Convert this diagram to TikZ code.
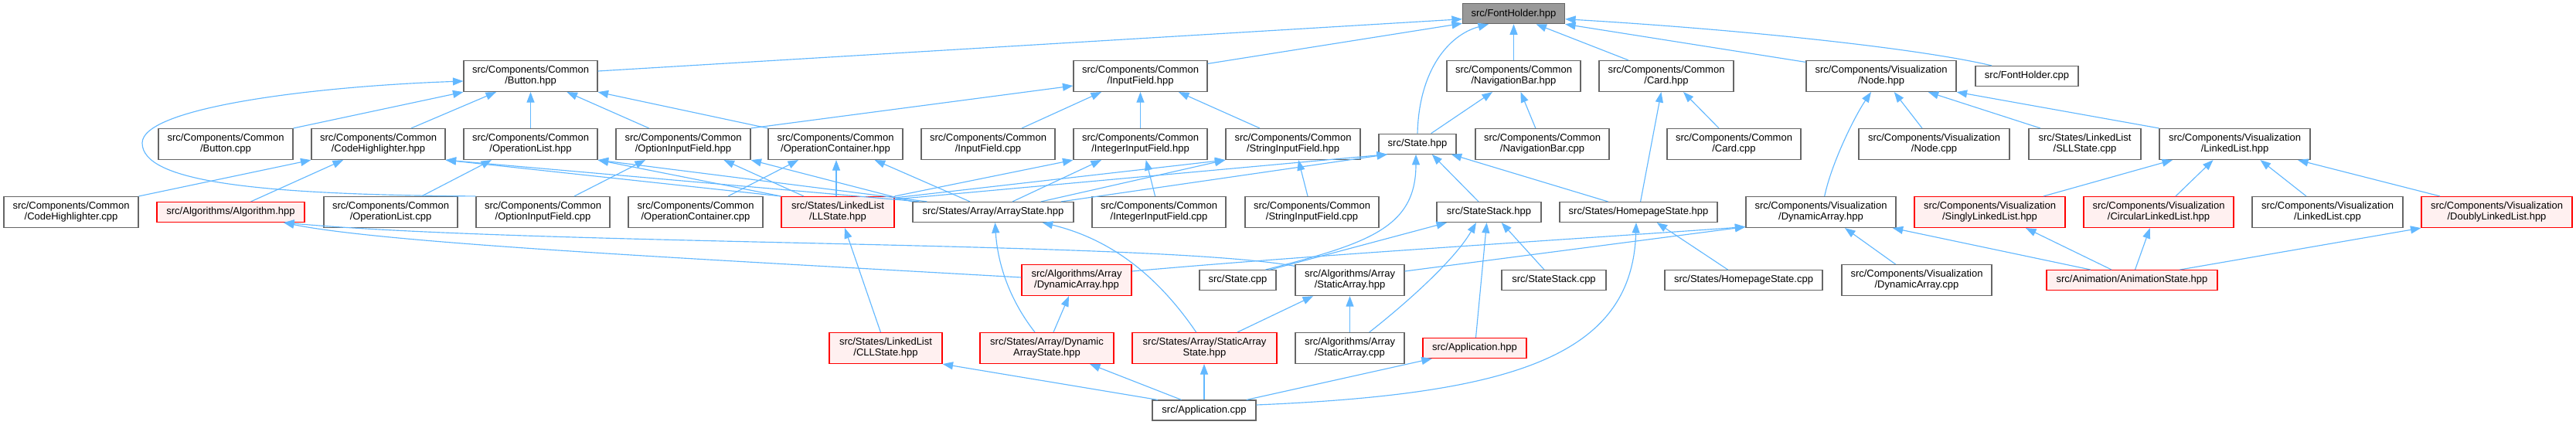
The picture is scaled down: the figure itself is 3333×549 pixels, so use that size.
\documentclass[tikz,border=0pt]{standalone}
\usepackage{fontspec}
\newfontfamily\nf{Liberation Sans}
\usetikzlibrary{arrows.meta}
\definecolor{eblue}{HTML}{63B8FF}
\definecolor{nborder}{HTML}{666666}
\definecolor{rootfill}{HTML}{999999}
\definecolor{rootborder}{HTML}{666666}
\definecolor{redfill}{HTML}{FFF0F0}
\tikzset{
  nb/.style={draw=nborder, fill=white, line width=1.15pt, inner sep=0pt, align=center,
    font=\nf\fontsize{13}{14}\selectfont, minimum height=40pt},
  oneline/.style={minimum height=26pt},
  rednode/.style={draw=red, fill=redfill},
  rootnode/.style={draw=rootborder, fill=rootfill},
  conn/.style={draw=eblue, line width=1.15pt, -{Triangle[length=13.5pt,width=10pt]}}
}
\begin{document}
\begin{tikzpicture}[x=1pt,y=-1pt]
\useasboundingbox (0,0) rectangle (3333,549);
% row 0
\node[nb, oneline, rootnode, minimum width=132pt] (fh) at (1958.5,17.7) {src/FontHolder.hpp};
% row 1
\node[nb, minimum width=173pt] (btnh) at (686.5,98.5) {src/Components/Common\\/Button.hpp};
\node[nb, minimum width=173pt] (ifh) at (1475.5,98.5) {src/Components/Common\\/InputField.hpp};
\node[nb, minimum width=173pt] (navh) at (1958.5,98.5) {src/Components/Common\\/NavigationBar.hpp};
\node[nb, minimum width=174pt] (cardh) at (2156,98.5) {src/Components/Common\\/Card.hpp};
\node[nb, minimum width=194pt] (nodeh) at (2434,98.5) {src/Components/Visualization\\/Node.hpp};
\node[nb, oneline, minimum width=133pt] (fhc) at (2622.5,98.5) {src/FontHolder.cpp};
% row 2
\node[nb, minimum width=174pt] (btnc) at (292,186.5) {src/Components/Common\\/Button.cpp};
\node[nb, minimum width=173pt] (chh) at (489.5,186.5) {src/Components/Common\\/CodeHighlighter.hpp};
\node[nb, minimum width=173pt] (olh) at (686.5,186.5) {src/Components/Common\\/OperationList.hpp};
\node[nb, minimum width=174pt] (oifh) at (884,186.5) {src/Components/Common\\/OptionInputField.hpp};
\node[nb, minimum width=174pt] (och) at (1081,186.5) {src/Components/Common\\/OperationContainer.hpp};
\node[nb, minimum width=173pt] (ifc) at (1278.5,186.5) {src/Components/Common\\/InputField.cpp};
\node[nb, minimum width=173pt] (iifh) at (1475.5,186.5) {src/Components/Common\\/IntegerInputField.hpp};
\node[nb, minimum width=174pt] (sifh) at (1673,186.5) {src/Components/Common\\/StringInputField.hpp};
\node[nb, oneline, minimum width=100pt] (stateh) at (1834,186.2) {src/State.hpp};
\node[nb, minimum width=173pt] (navc) at (1995.5,186.5) {src/Components/Common\\/NavigationBar.cpp};
\node[nb, minimum width=173pt] (cardc) at (2243.5,186.5) {src/Components/Common\\/Card.cpp};
\node[nb, minimum width=195pt] (nodec) at (2502.5,186.5) {src/Components/Visualization\\/Node.cpp};
\node[nb, minimum width=145pt] (sllc) at (2697.5,186.5) {src/States/LinkedList\\/SLLState.cpp};
\node[nb, minimum width=195pt] (llh) at (2891.5,186.5) {src/Components/Visualization\\/LinkedList.hpp};
% row 3
\node[nb, minimum width=174pt] (chc) at (92,274.5) {src/Components/Common\\/CodeHighlighter.cpp};
\node[nb, oneline, rednode, minimum width=191pt] (algh) at (298.5,274.5) {src/Algorithms/Algorithm.hpp};
\node[nb, minimum width=173pt] (olc) at (505.5,274.5) {src/Components/Common\\/OperationList.cpp};
\node[nb, minimum width=173pt] (oifc) at (702.5,274.5) {src/Components/Common\\/OptionInputField.cpp};
\node[nb, minimum width=174pt] (occ) at (900,274.5) {src/Components/Common\\/OperationContainer.cpp};
\node[nb, rednode, minimum width=146pt] (llsh) at (1084,274.5) {src/States/LinkedList\\/LLState.hpp};
\node[nb, oneline, minimum width=208pt] (ash) at (1285,274.5) {src/States/Array/ArrayState.hpp};
\node[nb, minimum width=173pt] (iifc) at (1499.5,274.5) {src/Components/Common\\/IntegerInputField.cpp};
\node[nb, minimum width=173pt] (sifc) at (1697.5,274.5) {src/Components/Common\\/StringInputField.cpp};
\node[nb, oneline, minimum width=135pt] (ssh) at (1926.5,274.5) {src/StateStack.hpp};
\node[nb, oneline, minimum width=204pt] (hsh) at (2120,274.5) {src/States/HomepageState.hpp};
\node[nb, minimum width=194pt] (vdah) at (2356,274.5) {src/Components/Visualization\\/DynamicArray.hpp};
\node[nb, rednode, minimum width=195pt] (sllh) at (2574.5,274.5) {src/Components/Visualization\\/SinglyLinkedList.hpp};
\node[nb, rednode, minimum width=194pt] (cllh) at (2793,274.5) {src/Components/Visualization\\/CircularLinkedList.hpp};
\node[nb, minimum width=195pt] (llc) at (3011.5,274.5) {src/Components/Visualization\\/LinkedList.cpp};
\node[nb, rednode, minimum width=195pt] (dllh) at (3230.5,274.5) {src/Components/Visualization\\/DoublyLinkedList.hpp};
% row 4
\node[nb, rednode, minimum width=142pt] (adah) at (1393,362.6) {src/Algorithms/Array\\/DynamicArray.hpp};
\node[nb, oneline, minimum width=99pt] (statec) at (1601.5,362.6) {src/State.cpp};
\node[nb, minimum width=141pt] (asah) at (1746.5,362.6) {src/Algorithms/Array\\/StaticArray.hpp};
\node[nb, oneline, minimum width=135pt] (ssc) at (2010.5,362.6) {src/StateStack.cpp};
\node[nb, oneline, minimum width=204pt] (hsc) at (2256,362.6) {src/States/HomepageState.cpp};
\node[nb, minimum width=194pt] (vdac) at (2480,362.6) {src/Components/Visualization\\/DynamicArray.cpp};
\node[nb, oneline, rednode, minimum width=221pt] (anih) at (2758.5,362.6) {src/Animation/AnimationState.hpp};
% row 5
\node[nb, rednode, minimum width=146pt] (clls) at (1146,450.5) {src/States/LinkedList\\/CLLState.hpp};
\node[nb, rednode, minimum width=173pt] (das) at (1354.5,450.5) {src/States/Array/Dynamic\\ArrayState.hpp};
\node[nb, rednode, minimum width=187pt] (sas) at (1558.5,450.5) {src/States/Array/StaticArray\\State.hpp};
\node[nb, minimum width=141pt] (asac) at (1746.5,450.5) {src/Algorithms/Array\\/StaticArray.cpp};
\node[nb, oneline, rednode, minimum width=134pt] (apph) at (1908,450.5) {src/Application.hpp};
% row 6
\node[nb, oneline, minimum width=134pt] (appc) at (1558,531) {src/Application.cpp};

% ---- edges to FontHolder.hpp
\draw[conn] ([yshift=6.5pt]btnh.east) -- ([yshift=-7pt]fh.west);
\draw[conn] ([yshift=-4.5pt]ifh.north east) -- ([yshift=1pt]fh.south west);
\draw[conn] (stateh.north) .. controls (1836,90) and (1875,45) .. ([xshift=-32.5pt]fh.south);
\draw[conn] (navh.north) -- (fh.south);
\draw[conn] ([xshift=-49pt]cardh.north) -- ([xshift=29pt]fh.south);
\draw[conn] ([yshift=-2.5pt]nodeh.north west) -- (fh.south east);
\draw[conn] ([xshift=-45.5pt]fhc.north) .. controls (2480,62) and (2250,38) .. ([yshift=-7pt]fh.east);
% ---- Button.hpp
\draw[conn] (btnc.north east) -- (btnh.south west);
\draw[conn] ([xshift=42.5pt]chh.north) -- ([xshift=-44.5pt]btnh.south);
\draw[conn] (oifc.north west) .. controls (330,252) and (184,235) .. (184,185) .. controls (184,140) and (400,112) .. ([yshift=-6.5pt]btnh.west);
\draw[conn] (olh.north) -- (btnh.south);
\draw[conn] ([xshift=-44.3pt]oifh.north) -- ([xshift=47pt]btnh.south);
\draw[conn] (och.north west) -- (btnh.south east);
% ---- InputField.hpp
\draw[conn] (oifh.north east) -- ([yshift=-12.5pt]ifh.west);
\draw[conn] ([xshift=43.5pt]ifc.north) -- ([xshift=-50.5pt]ifh.south);
\draw[conn] (iifh.north) -- (ifh.south);
\draw[conn] ([xshift=-43pt]sifh.north) -- ([xshift=49.5pt]ifh.south);
% ---- NavigationBar.hpp, Card.hpp
\draw[conn] ([xshift=17.7pt]stateh.north) -- ([xshift=-27.5pt]navh.south);
\draw[conn] ([xshift=-8.7pt]navc.north) -- ([xshift=9pt]navh.south);
\draw[conn] ([xshift=-19.5pt]cardc.north) -- ([xshift=22pt]cardh.south);
\draw[conn] ([xshift=2.6pt]hsh.north) -- ([xshift=-6.6pt]cardh.south);
% ---- Node.hpp
\draw[conn] ([xshift=4.7pt]vdah.north) .. controls (2370,210) and (2400,150) .. ([xshift=-13pt]nodeh.south);
\draw[conn] ([xshift=-15.5pt]nodec.north) -- ([xshift=16.7pt]nodeh.south);
\draw[conn] ([xshift=-57.5pt]sllc.north) -- ([xshift=60.7pt]nodeh.south);
\draw[conn] (llh.north west) -- (nodeh.south east);
% ---- CodeHighlighter.hpp
\draw[conn] (chc.north east) -- (chh.south west);
\draw[conn] ([xshift=26pt]algh.north) -- ([xshift=-45.5pt]chh.south);
\draw[conn] (llsh.north west) -- (chh.south east);
\draw[conn] ([xshift=9pt]ash.north west) -- (chh.south east);
% ---- OperationList.hpp
\draw[conn] ([xshift=40pt]olc.north) -- ([xshift=-50.5pt]olh.south);
\draw[conn] (llsh.north west) -- (olh.south east);
\draw[conn] ([xshift=19pt]ash.north west) -- (olh.south east);
% ---- OptionInputField.hpp
\draw[conn] ([xshift=40.5pt]oifc.north) -- ([xshift=-49pt]oifh.south);
\draw[conn] ([xshift=-44pt]llsh.north) -- ([xshift=52.5pt]oifh.south);
\draw[conn] (ash.north west) -- (oifh.south east);
% ---- OperationContainer.hpp
\draw[conn] ([xshift=42pt]occ.north) -- ([xshift=-48pt]och.south);
\draw[conn] ([xshift=-2pt]llsh.north) -- ([xshift=1pt]och.south);
\draw[conn] ([xshift=-30pt]ash.north) -- ([xshift=50.7pt]och.south);
% ---- IntegerInputField.hpp
\draw[conn] ([xshift=-4.9pt]iifc.north) -- ([xshift=7.2pt]iifh.south);
\draw[conn] (llsh.north east) -- (iifh.south west);
\draw[conn] ([xshift=25pt]ash.north) -- ([xshift=-50.5pt]iifh.south);
% ---- StringInputField.hpp
\draw[conn] ([xshift=-5.5pt]sifc.north) -- ([xshift=7pt]sifh.south);
\draw[conn] ([yshift=-2pt]llsh.north east) -- (sifh.south west);
\draw[conn] ([xshift=62pt]ash.north) -- (sifh.south west);
% ---- State.hpp
\draw[conn] ([yshift=-4pt]llsh.north east) -- ([xshift=-39pt]stateh.south);
\draw[conn] ([xshift=88pt]ash.north) -- ([xshift=-39pt]stateh.south);
\draw[conn] ([xshift=36pt]statec.north) .. controls (1770,315) and (1832,295) .. ([xshift=-2pt]stateh.south);
\draw[conn] ([xshift=-13.5pt]ssh.north) -- ([xshift=18.8pt]stateh.south);
\draw[conn] ([xshift=-39.5pt]hsh.north) -- ([xshift=43.7pt]stateh.south);
% ---- StateStack.hpp
\draw[conn] ([xshift=42pt]statec.north) -- ([xshift=-54.5pt]ssh.south);
\draw[conn] ([xshift=25.2pt]asac.north) .. controls (1810,400) and (1880,340) .. ([xshift=-16.5pt]ssh.south);
\draw[conn] ([xshift=1.5pt]apph.north) -- ([xshift=-2.9pt]ssh.south);
\draw[conn] ([xshift=-12.5pt]ssc.north) -- ([xshift=16.2pt]ssh.south);
% ---- HomepageState.hpp
\draw[conn] ([xshift=-20.4pt]hsc.north) -- ([xshift=23.7pt]hsh.south);
\draw[conn] ([yshift=7pt]appc.east) .. controls (1960,510) and (2112,460) .. ([xshift=-3pt]hsh.south);
% ---- from Application.cpp
\draw[conn] ([xshift=54.8pt]appc.north) -- ([xshift=-55.2pt]apph.south);
\draw[conn] ([xshift=-60pt]appc.north) -- (clls.south east);
\draw[conn] ([xshift=-29.4pt]appc.north) -- ([xshift=55.5pt]das.south);
\draw[conn] (appc.north) -- (appc.north |- sas.south);
% ---- States
\draw[conn] ([xshift=-6.6pt]clls.north) -- ([xshift=9pt]llsh.south);
\draw[conn] ([xshift=-15.5pt]das.north) .. controls (1300,380) and (1290,330) .. ([xshift=2.5pt]ash.south);
\draw[conn] ([xshift=8.5pt]das.north) -- ([xshift=-10pt]adah.south);
\draw[conn] ([xshift=-10.8pt]sas.north) .. controls (1500,360) and (1440,310) .. ([xshift=63.7pt]ash.south);
\draw[conn] ([xshift=42.5pt]sas.north) -- ([xshift=-47.5pt]asah.south);
\draw[conn] (asac.north) -- (asah.south);
% ---- Algorithm.hpp
\draw[conn] ([yshift=3.6pt]adah.west) .. controls (900,335) and (500,315) .. ([xshift=68.5pt]algh.south);
\draw[conn] ([yshift=-2.4pt]asah.north west) .. controls (1500,312) and (700,318) .. ([xshift=68.5pt]algh.south);
% ---- Visualization/DynamicArray.hpp
\draw[conn] ([yshift=11.6pt]adah.east) .. controls (1700,330) and (2000,312) .. ([yshift=1.5pt]vdah.south west);
\draw[conn] ([yshift=11.6pt]asah.east) -- ([yshift=1.5pt]vdah.south west);
\draw[conn] ([xshift=-27.4pt]vdac.north) -- ([xshift=31pt]vdah.south);
\draw[conn] ([xshift=-53.5pt]anih.north) -- ([xshift=92.7pt]vdah.south);
% ---- linked lists
\draw[conn] ([xshift=-26.5pt]anih.north) -- ([xshift=46.5pt]sllh.south);
\draw[conn] ([xshift=4pt]anih.north) -- ([xshift=-11.3pt]cllh.south);
\draw[conn] ([xshift=62pt]anih.north) -- (dllh.south west);
\draw[conn] ([xshift=69.5pt]sllh.north) -- ([xshift=-80.5pt]llh.south);
\draw[conn] ([xshift=22pt]cllh.north) -- ([xshift=-28pt]llh.south);
\draw[conn] ([xshift=-27.5pt]llc.north) -- ([xshift=33pt]llh.south);
\draw[conn] ([xshift=-73.5pt]dllh.north) -- ([xshift=81.5pt]llh.south);
\end{tikzpicture}
\end{document}
